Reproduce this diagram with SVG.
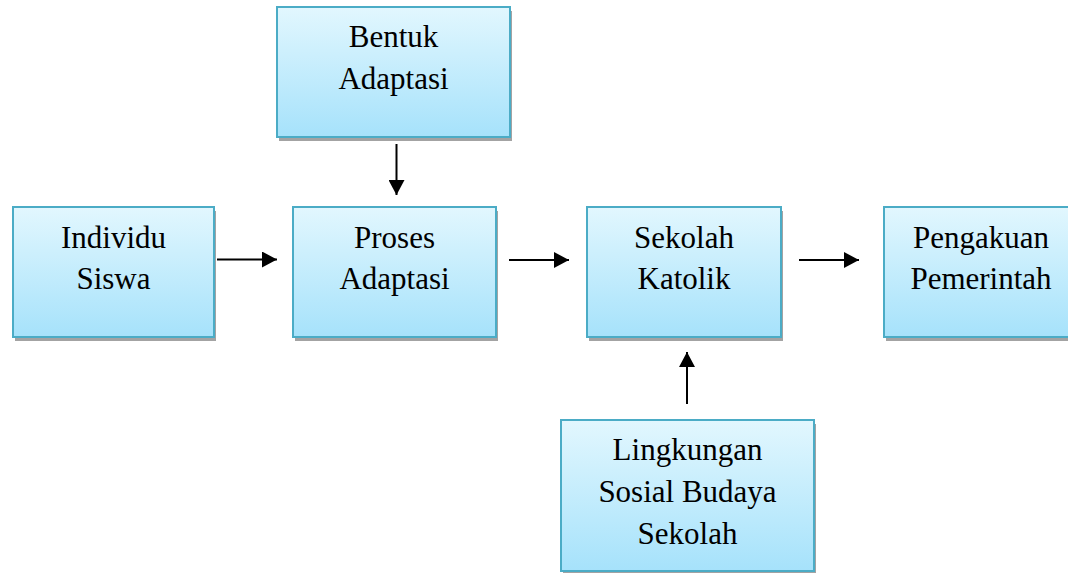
<svg xmlns="http://www.w3.org/2000/svg" width="1068" height="573" viewBox="0 0 1068 573">
  <defs>
    <linearGradient id="fill" x1="0" y1="0" x2="0" y2="1">
      <stop offset="0" stop-color="#e2f7fe"/>
      <stop offset="1" stop-color="#a6e2fb"/>
    </linearGradient>
    <marker id="arrow" viewBox="0 0 15 16" refX="15" refY="8" markerWidth="15" markerHeight="16" markerUnits="userSpaceOnUse" orient="auto">
      <path d="M0,0 L15,8 L0,16 Z" fill="#000"/>
    </marker>
  </defs>
  <style>
    .shadow { fill: #a3a3a3; }
    .box { fill: url(#fill); stroke: #4bacc6; stroke-width: 2; }
    .label { font-family: "Liberation Serif", "Times New Roman", serif; font-size: 31px; fill: #000; text-anchor: middle; }
    .conn { stroke: #000; stroke-width: 2; fill: none; marker-end: url(#arrow); }
  </style>
  <rect width="1068" height="573" fill="#fff"/>

  <g id="bentuk-adaptasi">
    <rect class="shadow" x="279" y="11" width="233" height="130"/>
    <rect class="box" x="277" y="7" width="233" height="130"/>
    <text class="label" x="393.5" y="47">Bentuk</text>
    <text class="label" x="393.5" y="88.5">Adaptasi</text>
  </g>

  <g id="individu-siswa">
    <rect class="shadow" x="15" y="211" width="201" height="130"/>
    <rect class="box" x="13" y="207" width="201" height="130"/>
    <text class="label" x="113.5" y="248">Individu</text>
    <text class="label" x="113.5" y="288.5">Siswa</text>
  </g>

  <g id="proses-adaptasi">
    <rect class="shadow" x="295" y="211" width="203" height="130"/>
    <rect class="box" x="293" y="207" width="203" height="130"/>
    <text class="label" x="394.5" y="248">Proses</text>
    <text class="label" x="394.5" y="288.5">Adaptasi</text>
  </g>

  <g id="sekolah-katolik">
    <rect class="shadow" x="589" y="211" width="194" height="130"/>
    <rect class="box" x="587" y="207" width="194" height="130"/>
    <text class="label" x="684" y="248">Sekolah</text>
    <text class="label" x="684" y="288.5">Katolik</text>
  </g>

  <g id="pengakuan-pemerintah">
    <rect class="shadow" x="886" y="211" width="194" height="130"/>
    <rect class="box" x="884" y="207" width="194" height="130"/>
    <text class="label" x="981" y="248">Pengakuan</text>
    <text class="label" x="981" y="288.5">Pemerintah</text>
  </g>

  <g id="lingkungan-sosial-budaya-sekolah">
    <rect class="shadow" x="563" y="424" width="253" height="151"/>
    <rect class="box" x="561" y="420" width="253" height="151"/>
    <text class="label" x="687.5" y="460">Lingkungan</text>
    <text class="label" x="687.5" y="502">Sosial Budaya</text>
    <text class="label" x="687.5" y="543.5">Sekolah</text>
  </g>

  <g id="connectors">
    <line class="conn" x1="396.5" y1="144" x2="396.5" y2="195"/>
    <line class="conn" x1="217" y1="259.5" x2="277" y2="259.5"/>
    <line class="conn" x1="509" y1="260" x2="569" y2="260"/>
    <line class="conn" x1="799" y1="260" x2="859" y2="260"/>
    <line class="conn" x1="687" y1="404" x2="687" y2="352"/>
  </g>
</svg>
